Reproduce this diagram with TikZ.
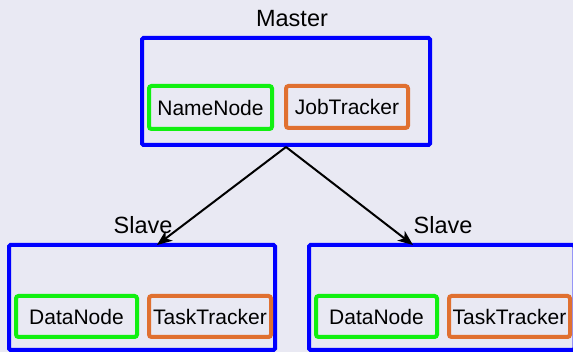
\documentclass[tikz,border=0pt]{standalone}
\usepackage{fontspec}
\setmainfont{Liberation Sans}
\usetikzlibrary{arrows.meta}
\definecolor{bgc}{HTML}{E9E9F3}
\definecolor{bluec}{HTML}{0000FF}
\definecolor{greenc}{HTML}{11F011}
\definecolor{orangec}{HTML}{E07030}
\tikzset{
  groupbox/.style={draw=bluec, line width=4pt, rounded corners=1.5pt, inner sep=0pt},
  greenbox/.style={draw=greenc, line width=4pt, rounded corners=2.5pt, inner sep=0pt, font=\fontsize{21pt}{24pt}\selectfont},
  orangebox/.style={draw=orangec, line width=4pt, rounded corners=2.5pt, inner sep=0pt, font=\fontsize{21pt}{24pt}\selectfont},
  grouplabel/.style={font=\fontsize{23.5pt}{28pt}\selectfont, inner sep=0pt, anchor=base},
  link/.style={line width=2pt, -{Stealth[length=15pt,width=12pt,inset=4pt]}}
}
\begin{document}
\begin{tikzpicture}[x=1pt,y=-1pt]
\fill[bgc] (0,0) rectangle (573,352);
\useasboundingbox (0,0) rectangle (573,352);
\clip (0,0) rectangle (573,352);
% Master
\node[groupbox, minimum width=288pt, minimum height=107pt] (master) at (286,91.5) {};
\node[grouplabel] (masterlbl) at (292,27) {Master};
\node[greenbox, minimum width=123pt, minimum height=43pt] (namenode) at (210.5,107.5) {NameNode};
\node[orangebox, minimum width=122pt, minimum height=42pt] (jobtracker) at (347,107) {JobTracker};
% Left slave
\node[groupbox, minimum width=266pt, minimum height=105pt] (slaveL) at (142,297.5) {};
\node[grouplabel] (slaveLlbl) at (143,234) {Slave};
\node[greenbox, minimum width=121pt, minimum height=41pt] (datanodeL) at (76.5,316.5) {DataNode};
\node[orangebox, minimum width=122pt, minimum height=41pt] (tasktrackerL) at (210,316.5) {\raisebox{-1.5pt}{TaskTracker}};
% Right slave
\node[groupbox, minimum width=265.5pt, minimum height=105pt] (slaveR) at (441.75,297.5) {};
\node[grouplabel] (slaveRlbl) at (443,234) {Slave};
\node[greenbox, minimum width=121pt, minimum height=41pt] (datanodeR) at (376.5,316.5) {DataNode};
\node[orangebox, minimum width=121pt, minimum height=41pt] (tasktrackerR) at (509.5,316.5) {\raisebox{-1.5pt}{TaskTracker}};
% connectors
\coordinate (tipL) at (157,245);
\coordinate (tipR) at (413,245);
\draw[link] (master.south) -- (tipL);
\draw[link] (master.south) -- (tipR);
\end{tikzpicture}
\end{document}
